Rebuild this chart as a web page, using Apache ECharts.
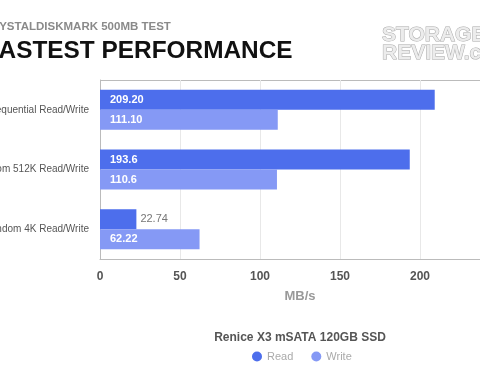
<!DOCTYPE html>
<html><head><meta charset="utf-8">
<script src="https://cdn.jsdelivr.net/npm/echarts@6/dist/echarts.min.js"></script>
<style>html,body{margin:0;padding:0;background:#fff}#c{width:480px;height:380px}</style>
</head><body><div id="c"></div>
<script>
var categories = ['Sequential Read/Write', 'Random 512K Read/Write', 'Random 4K Read/Write'];
var readValues = [209.20, 193.6, 22.74];
var writeValues = [111.10, 110.6, 62.22];
var readLabels = ['209.20', '193.6', '22.74'];
var writeLabels = ['111.10', '110.6', '62.22'];
var seriesNames = ['Read', 'Write'];
var chartTitle = 'FASTEST PERFORMANCE';
var chartSubtitle = 'CRYSTALDISKMARK 500MB TEST';
var legendTitle = 'Renice X3 mSATA 120GB SSD';
var axisName = 'MB/s';

var FONT = '"Liberation Sans", Arial, Helvetica, sans-serif';
var READ_C = '#4d6eec';
var WRITE_C = '#8599f5';

function mkData(vals, labels) {
  return vals.map(function (v, i) {
    var d = { value: v, label: { formatter: labels[i] } };
    if (v < 40) {
      d.label.position = 'right';
      d.label.color = '#777';
      d.label.fontWeight = 'normal';
      d.label.distance = 4;
    }
    return d;
  });
}

var chart = echarts.init(document.getElementById('c'), null, { renderer: 'canvas' });
chart.setOption({
  animation: false,
  textStyle: { fontFamily: FONT },
  graphic: [
    { type: 'text', x: -17, y: 21, style: { text: chartSubtitle, font: 'bold 11.5px ' + FONT, fill: '#8a8a8a' } },
    { type: 'text', x: -15, y: 39, style: { text: chartTitle, font: 'bold 24.4px ' + FONT, fill: '#111' } },
    { type: 'text', x: 382, y: 25, style: { text: 'STORAGE', font: 'bold 21px ' + FONT, fill: '#ececec', stroke: '#a8a8a8', lineWidth: 1 } },
    { type: 'text', x: 382, y: 43, style: { text: 'REVIEW.com', font: 'bold 21px ' + FONT, fill: '#ececec', stroke: '#a8a8a8', lineWidth: 1 } },
    { type: 'text', x: 300, y: 332, style: { text: legendTitle, font: 'bold 12px ' + FONT, fill: '#555', align: 'center' } },
    { type: 'line', shape: { x1: 100, y1: 80.5, x2: 480, y2: 80.5 }, style: { stroke: '#bbb', lineWidth: 1 } }
  ],
  legend: {
    data: seriesNames,
    left: 247, top: 346,
    icon: 'circle', itemWidth: 10, itemHeight: 10, itemGap: 18,
    textStyle: { color: '#aaa', fontSize: 11, fontFamily: FONT }
  },
  grid: { left: 100, top: 80, width: 400, height: 179, containLabel: false, outerBoundsMode: 'none' },
  xAxis: {
    type: 'value', min: 0, max: 250, interval: 50,
    name: axisName, nameLocation: 'middle', nameGap: 31,
    nameTextStyle: { color: '#999', fontSize: 13, fontWeight: 'bold', fontFamily: FONT },
    axisLine: { show: true, lineStyle: { color: '#bbb' } },
    axisTick: { show: false },
    axisLabel: { color: '#555', fontSize: 12, fontWeight: 'bold', margin: 12, fontFamily: FONT },
    splitLine: { show: true, lineStyle: { color: '#e8e8e8' } }
  },
  yAxis: {
    type: 'category', data: categories, inverse: true,
    axisLine: { show: true, lineStyle: { color: '#bbb' } },
    axisTick: { show: false },
    axisLabel: { color: '#555', fontSize: 10, margin: 11, fontFamily: FONT }
  },
  series: [
    {
      name: seriesNames[0], type: 'bar', data: mkData(readValues, readLabels),
      barWidth: 20, barGap: '0%',
      itemStyle: { color: READ_C },
      label: { show: true, position: 'insideLeft', distance: 10, color: '#fff', fontWeight: 'bold', fontSize: 11, fontFamily: FONT }
    },
    {
      name: seriesNames[1], type: 'bar', data: mkData(writeValues, writeLabels),
      barWidth: 20, barGap: '0%',
      itemStyle: { color: WRITE_C },
      label: { show: true, position: 'insideLeft', distance: 10, color: '#fff', fontWeight: 'bold', fontSize: 11, fontFamily: FONT }
    }
  ]
});
</script></body></html>
